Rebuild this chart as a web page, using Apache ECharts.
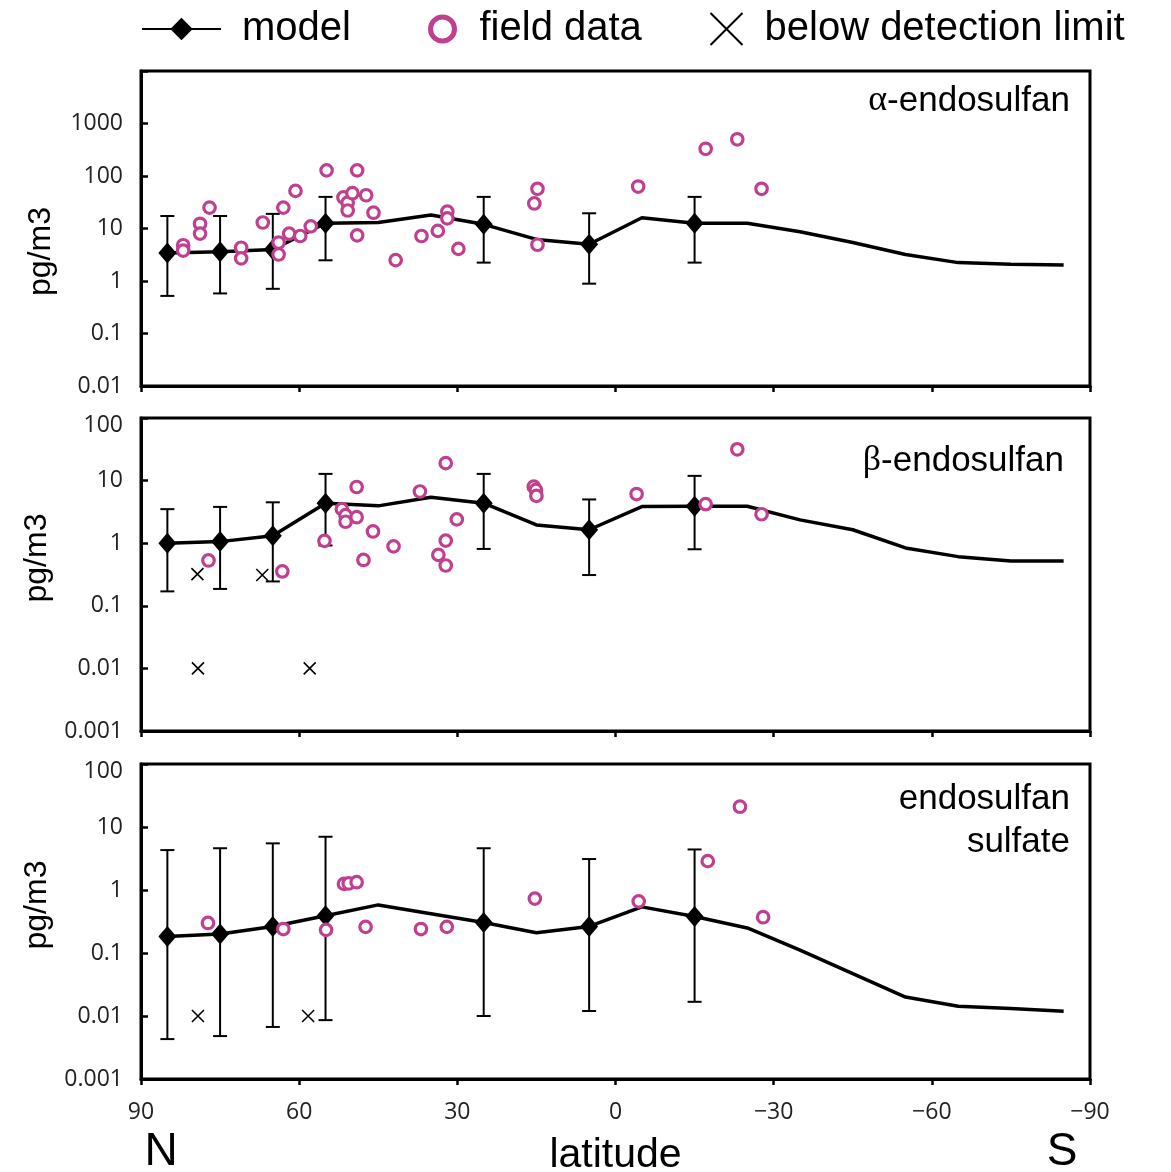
<!DOCTYPE html>
<html><head><meta charset="utf-8">
<script src="https://cdn.jsdelivr.net/npm/echarts@6/dist/echarts.min.js"></script>
<style>html,body{margin:0;padding:0;background:#fff;}#c{width:1171px;height:1172px;}</style>
</head><body><div id="c"></div>
<script>
// ---- data ----
const modelLat = [85,75,65,55,45,35,25,15,5,-5,-15,-25,-35,-45,-55,-65,-75,-85];
const alphaModel = [3.4,3.6,4.0,12.6,13,18,12,6.2,5.0,16,12.6,12.6,8.7,5.4,3.2,2.24,2.08,2.02];
const betaModel = [1.0,1.06,1.31,4.36,3.95,5.4,4.36,1.96,1.64,3.85,3.9,3.9,2.36,1.64,0.84,0.61,0.52,0.52];
const sulfateModel = [0.183,0.20,0.264,0.39,0.58,0.42,0.305,0.21,0.264,0.54,0.38,0.25,0.111,0.047,0.020,0.0143,0.0132,0.0119];

const errLat = [85,75,65,55,25,5,-15];
const alphaLow = [0.52,0.58,0.71,2.48,2.24,0.89,2.24];
const alphaHigh = [17.3,17.3,19,40,40,19.5,40];
const betaLow = [0.17,0.186,0.245,0.92,0.81,0.31,0.8];
const betaHigh = [3.5,3.8,4.5,12.8,12.8,5.0,11.9];
const sulfateLow = [0.0043,0.0048,0.0067,0.0086,0.01,0.012,0.0168];
const sulfateHigh = [4.3,4.6,5.5,7.0,4.6,3.1,4.4];

const alphaField = [[82,4.8],[82,3.8],[78.8,12.3],[78.8,8],[77,25],[71,4.3],[71,2.7],[66.9,13],[63,25],[63.9,5.4],[63.9,3.2],[60.7,52],[61.9,8],[59.8,7.2],[57.8,11],[54.8,128],[49,128],[51.6,39],[50.8,31],[50.8,22],[49.9,47],[47.3,43],[45.9,20],[49,7.4],[41.7,2.5],[36.8,7.2],[33.7,9],[31.9,21],[31.9,15.6],[29.8,4.1],[14.8,57],[15.4,30],[14.8,4.9],[-4.3,63],[-17.1,330],[-23.1,500],[-27.7,57]];
const betaField = [[77.2,0.53],[63.2,0.354],[55.2,1.09],[49.1,7.9],[51.9,3.5],[51.2,2.8],[51.2,2.2],[49.1,2.6],[46,1.54],[47.8,0.54],[42.1,0.89],[37.1,6.7],[32.2,19],[30.1,2.4],[32.2,1.1],[33.6,0.65],[32.2,0.44],[15.5,8.0],[15.1,7.1],[15,5.7],[-4,6.1],[-17.1,4.2],[-23.1,31.6],[-27.7,2.9]];
const sulfateField = [[77.3,0.30],[63,0.24],[54.9,0.233],[51.5,1.25],[50.6,1.27],[49.1,1.33],[47.4,0.26],[36.9,0.24],[32,0.26],[15.3,0.73],[-4.4,0.66],[-17.5,2.87],[-23.6,21],[-28,0.37]];

const betaBDL = [[79.3,0.32],[67,0.31],[79.2,0.01],[58,0.01]];
const sulfateBDL = [[79.2,0.01],[58.3,0.01]];

const yMin = [0.01, 0.001, 0.001];
const yMax = [10000, 100, 100];
const xTickLabels = {90:'90',60:'60',30:'30',0:'0','-30':'−30','-60':'−60','-90':'−90'};

// ---- styles ----
const PINK = '#c0408f';
const TICKFONT = 'Open Sans';
const TEXTFONT = 'Liberation Sans';

const grids = [
  {left:141, right:81, top:71, height:315},
  {left:141, right:81, top:418, height:313},
  {left:141, right:81, top:764, height:315}
].map(g => Object.assign(g, {show:true, borderColor:'#000', borderWidth:3, backgroundColor:'transparent', containLabel:false, outerBoundsMode:'none'}));

function expLabel(v, panel) {
  const e = Math.round(Math.log10(v));
  const topE = Math.round(Math.log10(yMax[panel]));
  if (panel === 0 && e === topE) return '';
  const s = e >= 0 ? String(Math.pow(10, e)) : '0.' + '0'.repeat(-e - 1) + '1';
  if (panel > 0 && e === topE) return '{t|' + s + '}';
  return s;
}

const namePad = [[0,46,0,0],[0,0,0,33],[0,0,0,33]];

const xAxes = [0,1,2].map(i => ({
  type:'value', gridIndex:i, min:-90, max:90, interval:30, inverse:true, position:'bottom',
  axisLine:{show:true, onZero:false, lineStyle:{color:'#000', width:3}},
  axisTick:{show:true, inside:false, length:6, lineStyle:{color:'#000', width:2.5}},
  splitLine:{show:false},
  axisLabel:{show:i===2, margin:22, fontSize:23, fontFamily:TICKFONT, color:'#222',
    formatter: v => xTickLabels[String(v)] ?? String(v)},
  name: i===2 ? 'latitude' : '',
  nameLocation:'middle', nameGap:56,
  nameTextStyle:{fontSize:41, fontFamily:TEXTFONT, color:'#000'}
}));

const yAxes = [0,1,2].map(i => ({
  type:'log', logBase:10, gridIndex:i, min:yMin[i], max:yMax[i], position:'left',
  axisLine:{show:true, onZero:false, lineStyle:{color:'#000', width:3}},
  axisTick:{show:true, inside:true, length:7, lineStyle:{color:'#000', width:2.5}},
  splitLine:{show:false},
  axisLabel:{margin:18, fontSize:23, fontFamily:TICKFONT, color:'#222',
    formatter: v => expLabel(v, i),
    rich:{t:{fontSize:23, fontFamily:TICKFONT, color:'#222', padding:[14,0,0,0]}}},
  name:'pg/m3', nameLocation:'middle', nameRotate:90, nameGap:84,
  nameTextStyle:{fontSize:32, fontFamily:TEXTFONT, color:'#000', padding:namePad[i]}
}));

const series = [];
const models = [alphaModel, betaModel, sulfateModel];
const lows = [alphaLow, betaLow, sulfateLow];
const highs = [alphaHigh, betaHigh, sulfateHigh];
const fields = [alphaField, betaField, sulfateField];
const bdls = [[], betaBDL, sulfateBDL];

for (let i = 0; i < 3; i++) {
  series.push({
    type:'custom', xAxisIndex:i, yAxisIndex:i, silent:true, z:2,
    data: errLat.map((lat,k) => [lat, lows[i][k], highs[i][k]]),
    encode:{x:0, y:[1,2]},
    renderItem:(params, api) => {
      const x = api.value(0);
      const lo = api.coord([x, api.value(1)]);
      const hi = api.coord([x, api.value(2)]);
      const w = 7;
      const st = {stroke:'#000', lineWidth:2};
      return {type:'group', children:[
        {type:'line', shape:{x1:lo[0], y1:lo[1], x2:hi[0], y2:hi[1]}, style:st},
        {type:'line', shape:{x1:lo[0]-w, y1:lo[1], x2:lo[0]+w, y2:lo[1]}, style:st},
        {type:'line', shape:{x1:hi[0]-w, y1:hi[1], x2:hi[0]+w, y2:hi[1]}, style:st}
      ]};
    }
  });
  series.push({
    type:'line', name:'model', xAxisIndex:i, yAxisIndex:i, z:3,
    symbol:'diamond', symbolSize:[18,21], showAllSymbol:true,
    lineStyle:{color:'#000', width:3.5}, itemStyle:{color:'#000'},
    data: modelLat.map((lat,k) => ({value:[lat, models[i][k]], symbol: errLat.includes(lat) ? 'diamond' : 'none'}))
  });
  series.push({
    type:'scatter', name:'field data', xAxisIndex:i, yAxisIndex:i, z:4,
    symbol:'circle', symbolSize:11.5,
    itemStyle:{color:'#fff', borderColor:PINK, borderWidth:3.2, opacity:1},
    data: fields[i]
  });
  series.push({
    type:'scatter', name:'below detection limit', xAxisIndex:i, yAxisIndex:i, z:4,
    symbol:'path://M0,0L10,10M10,0L0,10', symbolSize:12,
    itemStyle:{color:'none', borderColor:'#000', borderWidth:1.6, opacity:1},
    data: bdls[i]
  });
}

const legendText = {fontSize:40, fontFamily:TEXTFONT, color:'#000', lineHeight:44};
const legends = [
  {data:['model'], left:141, top:7, padding:0, itemWidth:79, itemHeight:28,
   textStyle:Object.assign({padding:[0,0,0,16]}, legendText)},
  {data:['field data'], left:428, top:7, padding:0, itemWidth:24, itemHeight:24,
   itemStyle:{borderWidth:5, color:'#fff', borderColor:PINK},
   textStyle:Object.assign({padding:[0,0,0,20]}, legendText)},
  {data:['below detection limit'], left:708, top:7, padding:0, itemWidth:32, itemHeight:32,
   itemStyle:{borderWidth:2, color:'none', borderColor:'#000'},
   textStyle:Object.assign({padding:[0,0,0,17]}, legendText)}
].map(l => Object.assign(l, {selectedMode:false}));

const titleStyle = {fontSize:35, fontFamily:TEXTFONT, fill:'#000', align:'right', verticalAlign:'middle'};
const graphic = [
  {type:'text', x:1070, y:101, style:Object.assign({text:'{g|α}-endosulfan', rich:{g:{fontSize:36, fontFamily:'Liberation Serif', fill:'#000'}}}, titleStyle)},
  {type:'text', x:1064, y:461, style:Object.assign({text:'{g|β}-endosulfan', rich:{g:{fontSize:36, fontFamily:'Liberation Serif', fill:'#000'}}}, titleStyle)},
  {type:'text', x:1070, y:821, style:Object.assign({text:'endosulfan\nsulfate', lineHeight:43}, titleStyle)},
  {type:'text', x:161, y:1152, style:{text:'N', fontSize:46, fontFamily:TEXTFONT, fill:'#000', align:'center', verticalAlign:'middle'}},
  {type:'text', x:1062, y:1152, style:{text:'S', fontSize:46, fontFamily:TEXTFONT, fill:'#000', align:'center', verticalAlign:'middle'}}
];

const chart = echarts.init(document.getElementById('c'), null, {renderer:'canvas'});
chart.setOption({
  animation:false,
  backgroundColor:'#fff',
  grid:grids, xAxis:xAxes, yAxis:yAxes, series:series, legend:legends, graphic:graphic
});
</script></body></html>
